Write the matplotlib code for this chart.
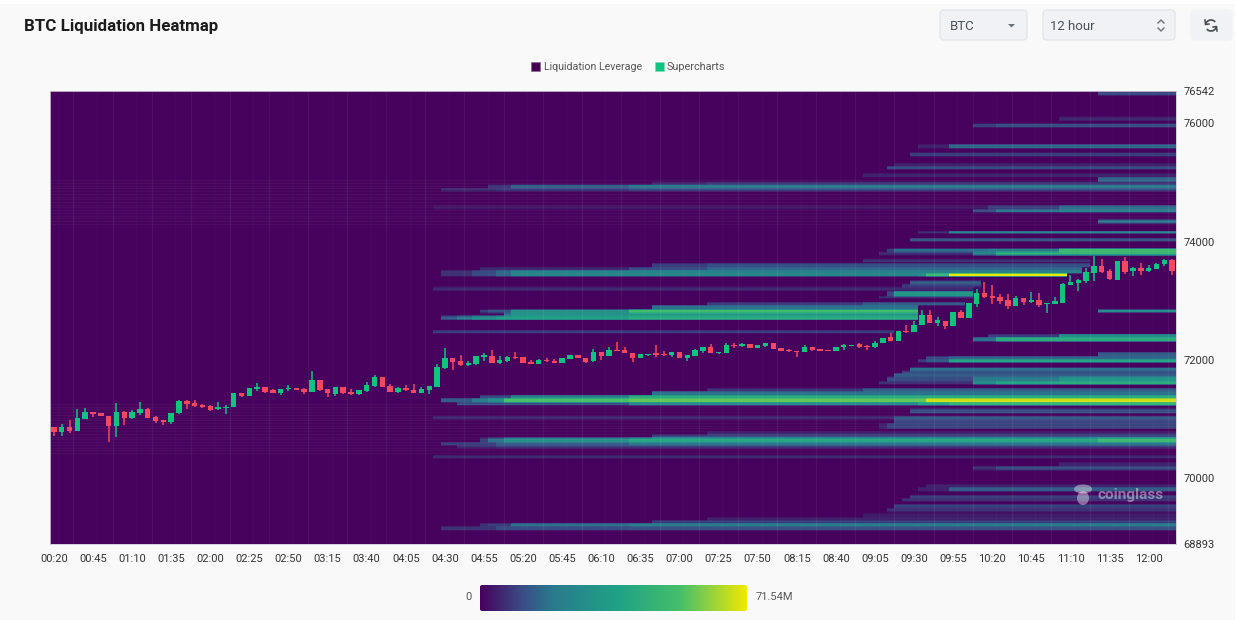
import numpy as np
import matplotlib
matplotlib.use('Agg')
import matplotlib.pyplot as plt
from matplotlib.colors import LinearSegmentedColormap
from matplotlib.patches import FancyBboxPatch, Ellipse, Rectangle, Arc, Polygon

plt.rcParams['font.family'] = ['Roboto', 'DejaVu Sans']

time_labels = ['00:20', '00:45', '01:10', '01:35', '02:00', '02:25', '02:50', '03:15', '03:40', '04:05',
               '04:30', '04:55', '05:20', '05:45', '06:10', '06:35', '07:00', '07:25', '07:50', '08:15',
               '08:40', '09:05', '09:30', '09:55', '10:20', '10:45', '11:10', '11:35', '12:00']
price_ticks = [68893, 70000, 72000, 74000, 76000, 76542]
max_value = 71.54

candle_dir = ('RGRGGRRRGR' 'GGRRRGGRRR' 'RGGGRGGRRG' 'GRRGRRGRRG' 'GGRRGRRGGG' 'GRRGGGRGGR' 'RRGRRGGRRG'
              'RGRRRGGRRG' 'RGGGRGGRGR' 'GGRRRRGRRR' 'GGGRRGGRGR' 'GGRGRGRGGR' 'RRRGRGRGGG' 'GGGGRRGRGR' 'GGGR')
body_top = [70874, 70874, 70874, 71021, 71122, 71122, 71105, 71060, 71122, 71122,
            71122, 71173, 71173, 71043, 70987, 71111, 71308, 71308, 71280, 71235,
            71223, 71201, 71212, 71448, 71448, 71522, 71544, 71544, 71488, 71516,
            71533, 71527, 71510, 71662, 71662, 71505, 71544, 71539, 71460, 71488,
            71572, 71719, 71719, 71561, 71522, 71522, 71493, 71505, 71561, 71876,
            72039, 72039, 71977, 71955, 72062, 72090, 72073, 72006, 72051, 72051,
            72045, 71966, 72006, 72006, 71989, 72034, 72079, 72079, 72039, 72135,
            72141, 72174, 72174, 72169, 72124, 72101, 72107, 72113, 72107, 72135,
            72141, 72090, 72163, 72214, 72214, 72141, 72253, 72259, 72270, 72265,
            72253, 72293, 72293, 72197, 72169, 72152, 72225, 72225, 72186, 72169,
            72225, 72253, 72259, 72265, 72242, 72293, 72377, 72383, 72490, 72495,
            72597, 72754, 72760, 72670, 72664, 72805, 72805, 72962, 73137, 73137,
            73075, 73064, 73013, 73047, 73047, 73007, 73013, 72968, 72991, 73283,
            73311, 73345, 73480, 73593, 73593, 73508, 73672, 73672, 73553, 73553,
            73553, 73627, 73694, 73694]
body_bottom = [70784, 70784, 70801, 70807, 70998, 71088, 71049, 70886, 70886, 71015,
               71015, 71105, 71026, 70970, 70953, 70953, 71100, 71263, 71218, 71212,
               71161, 71173, 71190, 71201, 71392, 71392, 71505, 71465, 71448, 71448,
               71505, 71488, 71460, 71465, 71488, 71437, 71432, 71443, 71420, 71420,
               71471, 71561, 71550, 71465, 71465, 71488, 71443, 71443, 71493, 71550,
               71859, 71966, 71916, 71916, 71932, 72045, 71944, 71944, 71983, 72028,
               71955, 71932, 71938, 71977, 71949, 71949, 72017, 72034, 71972, 71977,
               72073, 72068, 72152, 72113, 72028, 72028, 72084, 72084, 72084, 72079,
               72034, 72034, 72073, 72146, 72113, 72113, 72124, 72242, 72236, 72208,
               72208, 72242, 72191, 72158, 72146, 72129, 72135, 72169, 72158, 72152,
               72158, 72225, 72236, 72219, 72214, 72214, 72281, 72326, 72326, 72478,
               72478, 72591, 72625, 72625, 72568, 72568, 72709, 72715, 72940, 73058,
               73047, 72996, 72912, 72912, 72979, 72979, 72929, 72940, 72951, 72968,
               73266, 73306, 73328, 73469, 73491, 73362, 73356, 73491, 73497, 73503,
               73503, 73542, 73615, 73497]
wick_high = [70874, 70919, 70987, 71167, 71190, 71122, 71105, 71060, 71268, 71145,
             71156, 71291, 71184, 71054, 70987, 71111, 71319, 71325, 71325, 71251,
             71235, 71291, 71235, 71448, 71448, 71522, 71617, 71544, 71505, 71516,
             71572, 71527, 71533, 71809, 71662, 71505, 71550, 71539, 71516, 71493,
             71623, 71747, 71719, 71589, 71544, 71572, 71589, 71539, 71561, 71927,
             72197, 72039, 72079, 71983, 72062, 72124, 72169, 72068, 72068, 72135,
             72045, 72000, 72023, 72034, 72011, 72034, 72079, 72079, 72039, 72180,
             72141, 72214, 72298, 72214, 72124, 72101, 72107, 72253, 72152, 72135,
             72141, 72090, 72191, 72214, 72270, 72141, 72293, 72287, 72281, 72265,
             72253, 72293, 72293, 72197, 72180, 72152, 72248, 72225, 72186, 72169,
             72225, 72270, 72259, 72281, 72259, 72315, 72377, 72450, 72490, 72585,
             72658, 72844, 72844, 72726, 72664, 72805, 72844, 72962, 73193, 73311,
             73266, 73114, 73114, 73081, 73047, 73142, 73137, 72968, 73058, 73306,
             73435, 73362, 73548, 73756, 73700, 73542, 73672, 73745, 73565, 73632,
             73610, 73643, 73705, 73705]
wick_low = [70717, 70717, 70773, 70807, 70998, 71038, 71049, 70616, 70706, 70908,
            71009, 71071, 71026, 70936, 70897, 70925, 71094, 71167, 71212, 71195,
            71139, 71156, 71083, 71201, 71370, 71392, 71482, 71448, 71437, 71415,
            71482, 71488, 71426, 71454, 71471, 71381, 71398, 71426, 71409, 71409,
            71465, 71550, 71550, 71454, 71448, 71477, 71437, 71437, 71432, 71544,
            71848, 71831, 71893, 71893, 71916, 71983, 71944, 71938, 71961, 72017,
            71955, 71932, 71932, 71961, 71944, 71949, 72017, 72034, 71944, 71972,
            72000, 72068, 72152, 72113, 71966, 72028, 72062, 72056, 72068, 72056,
            72034, 71983, 72068, 72113, 72113, 72096, 72118, 72197, 72225, 72208,
            72208, 72219, 72191, 72158, 72141, 72045, 72129, 72152, 72158, 72152,
            72158, 72169, 72236, 72197, 72169, 72208, 72281, 72321, 72326, 72450,
            72473, 72585, 72625, 72580, 72523, 72568, 72704, 72715, 72900, 73041,
            72946, 72940, 72855, 72912, 72934, 72968, 72889, 72788, 72946, 72962,
            73261, 73171, 73294, 73339, 73475, 73351, 73356, 73452, 73418, 73441,
            73480, 73531, 73587, 73441]

# liquidation bands: price high, price low, last candle, [(first candle, value in M), ...]
bands = [
    (76542, 76480, 144, [(134, 11)]),
    (76103, 76052, 144, [(129, 6)]),
    (76002, 75934, 144, [(118, 9), (121, 12)]),
    (75647, 75580, 144, [(111, 5), (115, 16)]),
    (75512, 75445, 144, [(110, 9)]),
    (75326, 75276, 144, [(108, 5)]),
    (75276, 75225, 144, [(107, 11)]),
    (75158, 75090, 144, [(104, 5)]),
    (75090, 75022, 144, [(134, 16)]),
    (75022, 74972, 144, [(77, 5), (84, 7)]),
    (74972, 74904, 144, [(56, 7), (59, 14), (74, 19)]),
    (74904, 74854, 144, [(50, 7), (57, 9), (74, 12)]),
    (74617, 74583, 144, [(49, 3), (120, 9), (129, 14)]),
    (74583, 74550, 144, [(49, 3), (120, 9), (129, 18)]),
    (74550, 74499, 144, [(118, 11), (121, 18), (129, 21)]),
    (74364, 74313, 144, [(134, 23)]),
    (74178, 74144, 144, [(111, 7), (115, 27)]),
    (74060, 74009, 144, [(110, 13)]),
    (73891, 73824, 144, [(107, 9), (108, 18), (120, 21), (129, 50)]),
    (73824, 73773, 144, [(106, 7), (118, 25), (121, 48)]),
    (73705, 73655, 133, [(104, 7)]),
    (73638, 73570, 133, [(77, 9), (84, 12)]),
    (73570, 73520, 132, [(55, 6), (74, 12), (84, 16)]),
    (73520, 73469, 132, [(50, 7), (54, 11), (57, 16), (59, 23)]),
    (73469, 73418, 130, [(50, 7), (54, 11), (57, 16), (59, 25), (111, 29), (112, 50), (115, 71.54)]),
    (73334, 73283, 119, [(110, 16)]),
    (73283, 73233, 119, [(109, 9)]),
    (73233, 73182, 118, [(49, 6)]),
    (73165, 73081, 118, [(107, 11), (108, 32)]),
    (73081, 73047, 118, [(106, 7)]),
    (72979, 72929, 117, [(84, 9), (104, 14)]),
    (72929, 72861, 111, [(77, 18)]),
    (72861, 72794, 111, [(55, 9), (56, 13), (59, 30), (74, 52)]),
    (72794, 72743, 111, [(58, 18), (59, 30), (74, 32)]),
    (72743, 72692, 111, [(50, 14), (52, 21), (54, 29), (57, 36), (74, 43)]),
    (72507, 72456, 108, [(49, 9)]),
    (72861, 72812, 144, [(134, 29)]),
    (72439, 72388, 144, [(120, 9), (129, 29)]),
    (72388, 72321, 144, [(118, 18), (121, 43)]),
    (72135, 72068, 144, [(134, 14)]),
    (72068, 72017, 144, [(112, 11), (115, 16)]),
    (72017, 71966, 144, [(111, 9), (112, 14), (115, 39)]),
    (71882, 71814, 144, [(110, 18)]),
    (71814, 71780, 144, [(109, 11)]),
    (71780, 71713, 144, [(108, 14)]),
    (71713, 71645, 144, [(107, 11), (118, 21), (129, 32)]),
    (71645, 71595, 144, [(106, 7), (118, 29), (121, 39), (129, 43)]),
    (71527, 71477, 144, [(84, 7), (104, 14)]),
    (71477, 71409, 144, [(77, 18)]),
    (71409, 71358, 144, [(55, 11), (59, 25), (74, 43)]),
    (71358, 71291, 144, [(50, 14), (54, 21), (56, 29), (58, 54), (74, 57), (112, 68)]),
    (71291, 71240, 144, [(52, 11), (74, 25), (111, 36), (115, 46)]),
    (71173, 71105, 144, [(110, 12)]),
    (71054, 71004, 144, [(49, 7), (108, 14)]),
    (71004, 70936, 144, [(108, 10)]),
    (70936, 70852, 144, [(106, 5), (107, 10)]),
    (70784, 70734, 144, [(84, 6)]),
    (70734, 70683, 144, [(77, 12)]),
    (70683, 70615, 144, [(55, 9), (56, 18), (58, 29), (74, 39), (134, 50)]),
    (70615, 70565, 144, [(50, 9), (57, 14), (74, 19)]),
    (70565, 70514, 144, [(52, 7), (57, 9)]),
    (70396, 70345, 144, [(49, 6)]),
    (70278, 70210, 144, [(129, 5)]),
    (70210, 70143, 144, [(118, 7), (121, 12)]),
    (69906, 69856, 144, [(112, 5)]),
    (69856, 69788, 144, [(111, 5), (115, 14)]),
    (69721, 69670, 144, [(110, 9)]),
    (69670, 69619, 144, [(109, 7)]),
    (69569, 69501, 144, [(108, 9)]),
    (69501, 69434, 144, [(107, 7)]),
    (69417, 69349, 144, [(104, 4)]),
    (69349, 69299, 144, [(84, 5)]),
    (69299, 69248, 144, [(77, 9)]),
    (69248, 69197, 144, [(55, 7), (56, 9), (59, 18), (74, 21)]),
    (69197, 69130, 144, [(50, 7), (57, 11), (74, 12)]),
]

heat_cmap = LinearSegmentedColormap.from_list('heat', [
    (0.0, '#46025c'), (0.15, '#3a4a85'), (0.27, '#2a7a8e'), (0.52, '#20a386'),
    (0.75, '#45bf6a'), (0.86, '#8fd142'), (1.0, '#f2e900')])

# heat matrix on a 10 USD price grid
price_lo, price_hi = 68893, 76542
n_rows = (price_hi - price_lo) // 10 + 1
heat = np.zeros((n_rows, 144))
for hi, lo, end, steps in bands:
    r0 = int((lo - price_lo) / 10)
    r1 = int((hi - price_lo) / 10)
    for k, (start, val) in enumerate(steps):
        stop = steps[k + 1][0] if k + 1 < len(steps) else end
        heat[r0:r1, start:stop] = val
# the screenshot is slightly soft, so soften the band edges by about a pixel
heat = (heat + np.roll(heat, 1, axis=0) + np.roll(heat, -1, axis=0)) / 3

fig = plt.figure(figsize=(12.38, 6.2), dpi=100, facecolor='#f9f9f9')
W, H = 1238, 620
ax = fig.add_axes([50 / W, (H - 544) / H, 1126 / W, 453 / H])
ax.imshow(heat, origin='lower', aspect='auto', cmap=heat_cmap, vmin=0, vmax=max_value,
          extent=(-0.5, 143.5, price_lo, price_hi), interpolation='nearest', zorder=1)

# faint grid of the heatmap cells
ax.vlines(np.arange(2.5, 144, 5), price_lo, price_hi, color='white', alpha=0.055, lw=1, zorder=2)
ax.vlines(np.arange(0.5, 144, 5), price_lo, price_hi, color='white', alpha=0.025, lw=1, zorder=2)
for lo, hi in [(74300, 75040), (70430, 71270)]:
    ax.hlines(np.arange(lo, hi, 46), -0.5, 143.5, color='white', alpha=0.04, lw=1, zorder=2)

# candles
xs = np.arange(144)
cols = ['#0fc47f' if d == 'G' else '#f5475f' for d in candle_dir]
ax.vlines(xs, wick_low, wick_high, colors=cols, lw=1.1, zorder=3)
ax.bar(xs, np.maximum(np.array(body_top) - np.array(body_bottom), 15), bottom=body_bottom,
       width=0.7, color=cols, zorder=4, lw=0)

ax.set_xlim(-0.5, 143.5)
ax.set_ylim(price_lo, price_hi)
ax.set_xticks(xs[::5], time_labels)
ax.yaxis.tick_right()
ax.set_yticks(price_ticks, [str(p) for p in price_ticks])
ax.tick_params(axis='both', length=0, labelsize=8, labelcolor='#333333')
ax.tick_params(axis='x', pad=7)
ax.tick_params(axis='y', pad=5.5)
for s in ax.spines.values():
    s.set_color('#cfc6d6')
    s.set_linewidth(0.6)

# page chrome, drawn in pixel coordinates
ui = fig.add_axes([0, 0, 1, 1], zorder=5)
ui.set_xlim(0, W)
ui.set_ylim(H, 0)
ui.axis('off')
ui.patch.set_alpha(0)
ui.add_patch(Rectangle((0, 0), W, 4, color='white', lw=0))
ui.add_patch(Rectangle((W - 3, 0), 3, H, color='white', lw=0))

ui.text(24, 26, 'BTC Liquidation Heatmap', fontsize=12.2, fontweight='bold', color='#1c1c1c',
        va='center', ha='left')

for x0, x1 in [(940, 1027), (1043, 1175), (1191, 1232)]:
    edge = '#e3e7ec' if x0 != 1191 else '#f0f2f5'
    ui.add_patch(FancyBboxPatch((x0, 10), x1 - x0, 30, boxstyle='round,pad=0,rounding_size=4',
                                fc='#f0f2f5', ec=edge, lw=1))
ui.text(950, 26, 'BTC', fontsize=9.5, color='#4a5058', va='center')
ui.text(1050, 26, '12 hour', fontsize=9.5, color='#4a5058', va='center')
ui.add_patch(Polygon([(1008, 24), (1015, 24), (1011.5, 27.5)], color='#6b7178', lw=0))
ui.plot([1158, 1161, 1164], [23, 20, 23], color='#6b7178', lw=1)
ui.plot([1158, 1161, 1164], [28, 31, 28], color='#6b7178', lw=1)
ui.add_patch(Arc((1211, 25.5), 11, 11, theta1=190, theta2=320, color='#444a50', lw=1.2))
ui.add_patch(Arc((1211, 25.5), 11, 11, theta1=10, theta2=140, color='#444a50', lw=1.2))
ui.plot([1205, 1205.5, 1209], [20, 24.5, 24], color='#444a50', lw=1.1)
ui.plot([1217, 1216.5, 1213], [31, 26.5, 27], color='#444a50', lw=1.1)

ui.add_patch(Rectangle((530.5, 61.5), 9, 9, fc='#440154', ec='#8a6a96', lw=0.5))
ui.text(544, 66.5, 'Liquidation Leverage', fontsize=7.7, color='#555555', va='center')
ui.add_patch(Rectangle((654.5, 61.5), 9, 9, fc='#0fc47f', ec='#7fdcb8', lw=0.5))
ui.text(667, 66.5, 'Supercharts', fontsize=7.8, color='#555555', va='center')

# watermark
ui.text(1097, 494.5, 'coinglass', fontsize=11.1, fontweight='bold', color='white', alpha=0.42,
        va='center', ha='left')
ui.add_patch(Ellipse((1083, 489), 18, 9, color='white', alpha=0.4, lw=0))
ui.add_patch(Ellipse((1083, 498), 12, 14, color='white', alpha=0.4, lw=0))

# colour scale
bar = ui.imshow(np.linspace(0, 1, 256)[None, :], cmap=heat_cmap, aspect='auto',
                extent=(480, 747, 611, 585), zorder=2)
clip = FancyBboxPatch((480, 585), 267, 26, boxstyle='round,pad=0,rounding_size=2', fc='none', ec='none',
                      transform=ui.transData)
ui.add_patch(clip)
bar.set_clip_path(clip)
ui.set_xlim(0, W)
ui.set_ylim(H, 0)
ui.text(468.5, 597, '0', fontsize=8, color='#555555', va='center', ha='center')
ui.text(756, 597, '71.54M', fontsize=8, color='#555555', va='center', ha='left')

fig.savefig('out.png', dpi=100, facecolor=fig.get_facecolor())
